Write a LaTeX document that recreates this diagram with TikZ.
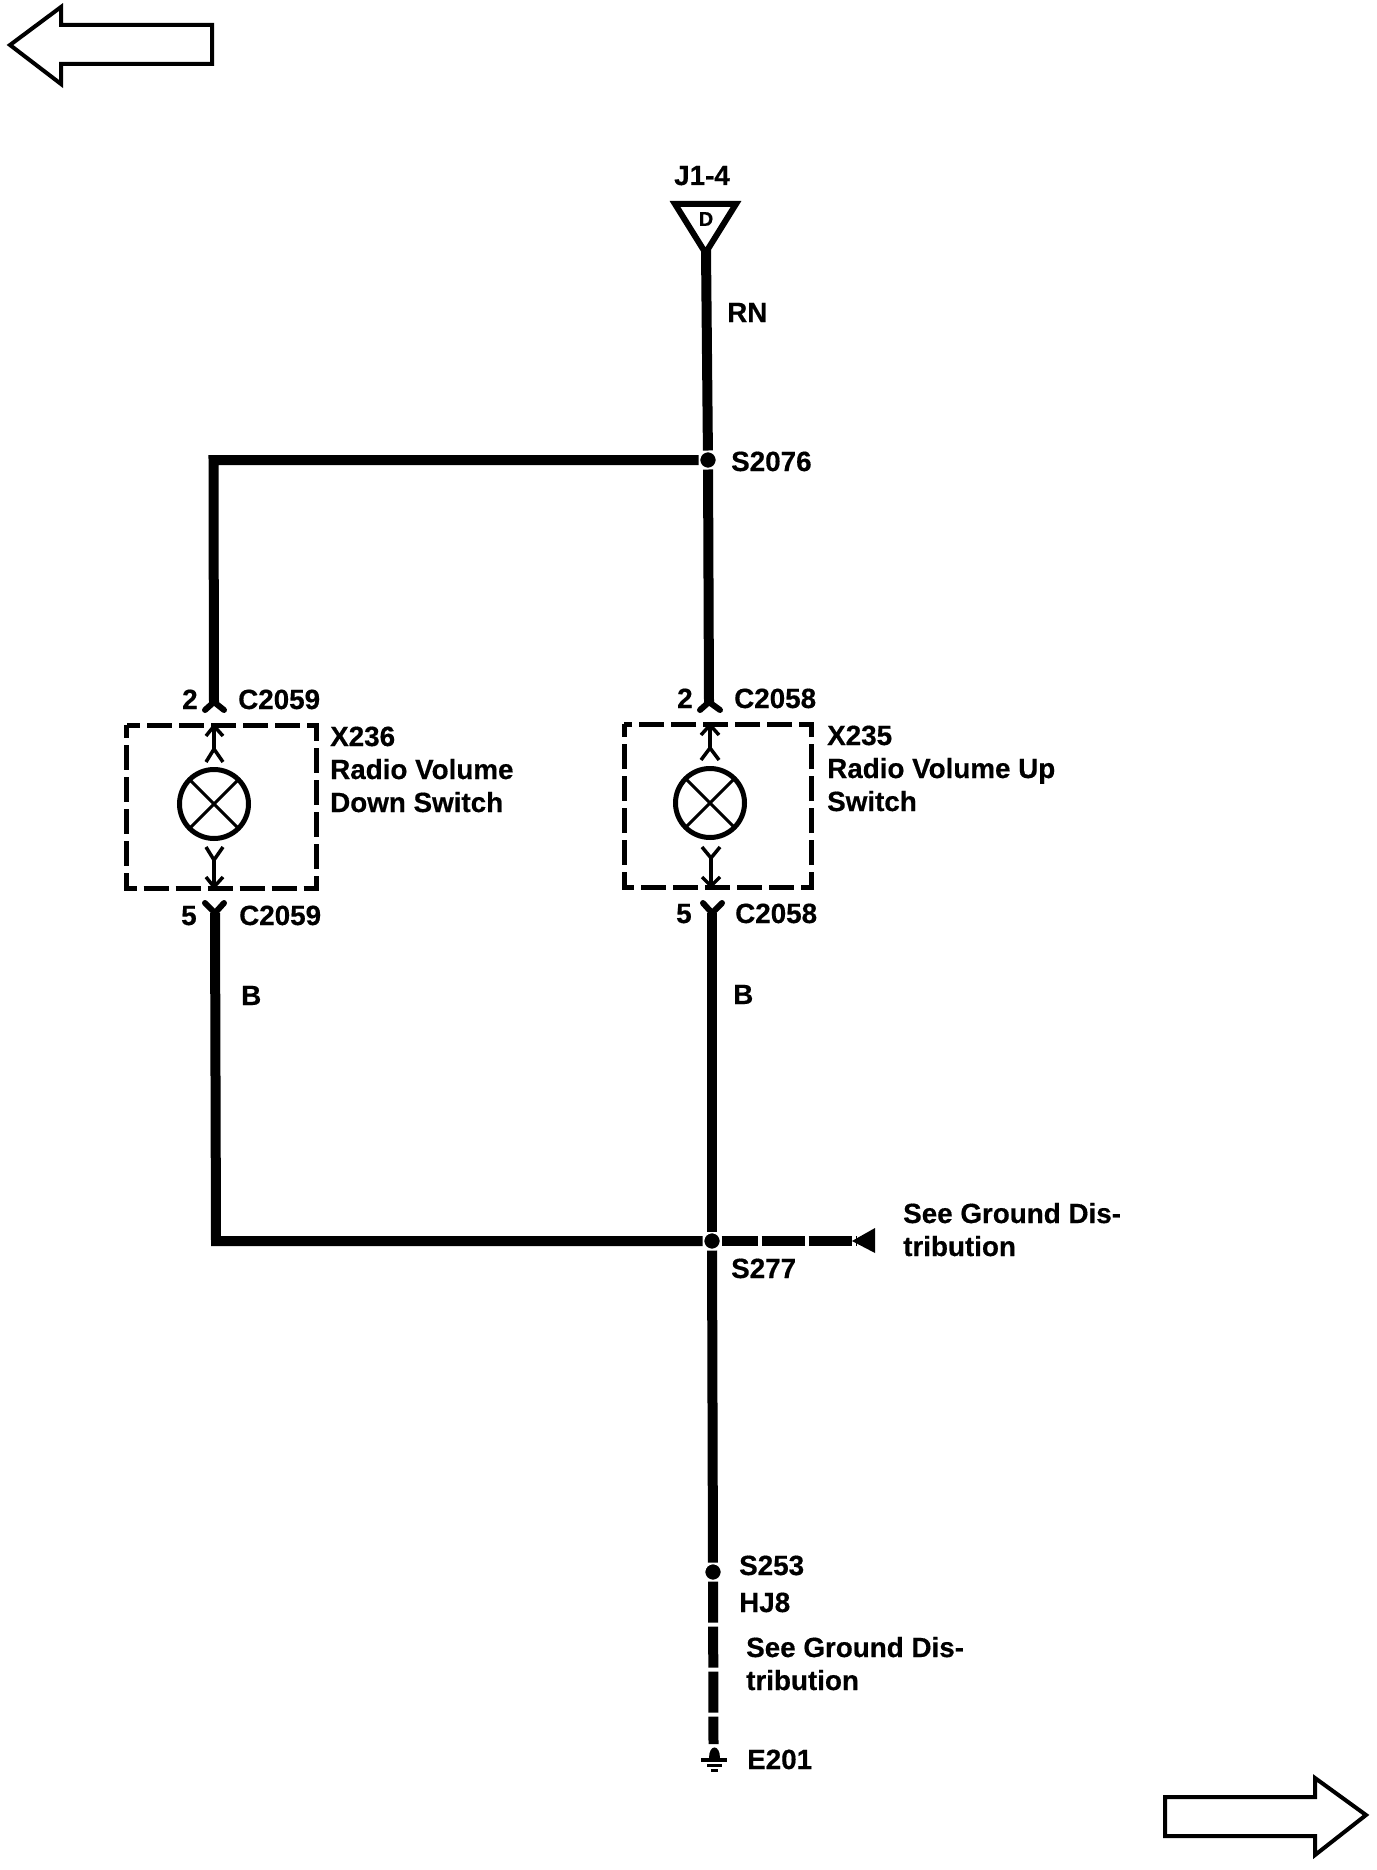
\documentclass[tikz,border=0pt]{standalone}
\usepackage{fontspec}
\setmainfont{Liberation Sans}[BoldFeatures={FakeBold=0.5}]
\tikzset{
	wire/.style={line width=10pt},
	dashWire/.style={line width=10pt, dash pattern=on 41pt off 4pt},
	fork/.style={line width=6pt, line cap=round, line join=round},
	stem/.style={line width=3.5pt, line join=round},
	switchBox/.style={line width=5pt, dash pattern=on 25pt off 7pt, dash phase=12pt, line join=miter},
	lamp/.style={circle, draw, line width=5pt, minimum size=69pt, inner sep=0pt, outer sep=0pt},
	splice/.style={circle, fill=black, draw=white, line width=3.5pt, minimum size=19pt, inner sep=0pt, outer sep=0pt},
	pageArrow/.style={line width=4pt, line join=miter},
	lab/.style={font=\bfseries\fontsize{27.8}{33}\selectfont, inner sep=0pt, anchor=base west, align=left}
}

\begin{document}
\begin{tikzpicture}[x=1pt, y=-1pt]

	\useasboundingbox (0,0) rectangle (1376,1870);

% Define coordinates.

	%top of feed
	\coordinate (feedTop) at (706, 250);

	%left branch
	\coordinate (cornerUp) at (213.5, 460);
	\coordinate (pinDownA) at (214, 702);
	\coordinate (pinDownB) at (215, 913);
	\coordinate (cornerLow) at (216, 1241);

	%right branch
	\coordinate (pinUpA) at (709, 702);
	\coordinate (pinUpB) at (712, 913);

	%ground leads
	\coordinate (groundTip) at (856, 1241);
	\coordinate (groundEnd) at (713.5, 1744);

% Splices and lamps.

	\node[splice] (S2076) at (708, 460) {};
	\node[splice] (S277) at (712, 1241) {};
	\node[splice] (S253) at (713, 1572) {};

	\node[lamp] (lampDown) at (214, 804) {};
	\node[lamp] (lampUp) at (710, 803) {};

% Draw wires.

	\draw[wire] (feedTop) -- (S2076);
	\draw[wire] (S2076) -- (pinUpA);
	\draw[wire, line join=miter] (S2076) -- (cornerUp) -- (pinDownA);
	\draw[wire, line join=miter] (pinDownB) -- (cornerLow) -- (S277);
	\draw[wire] (pinUpB) -- (S277);
	\draw[wire] (S277) -- (S253);
	\draw[wire, dash pattern=on 43pt off 4pt, dash phase=7pt] (S277) -- (groundTip);
	\draw[dashWire] (S253) -- (groundEnd);

% Draw connector pins.

	\draw[fork] (205, 710) -- (pinDownA) -- (224, 710);
	\draw[fork] (205, 903) -- (pinDownB) -- (224, 903);
	\draw[fork] (700, 710) -- (pinUpA) -- (720, 710);
	\draw[fork] (703, 903) -- (pinUpB) -- (722, 903);

% Draw switches.

	%radio volume down
	\draw[switchBox] (126.5, 725) rectangle (316, 888);
	\draw[stem] (214, 726) -- (214, 749);
	\draw[stem] (206, 736) -- (214, 726) -- (223, 736);
	\draw[stem] (206, 762) -- (214, 749) -- (223, 762);
	\draw[line width=3pt] (lampDown.45) -- (lampDown.225);
	\draw[line width=3pt] (lampDown.135) -- (lampDown.315);
	\draw[stem] (214, 860) -- (214, 887);
	\draw[stem] (206, 847) -- (214, 860) -- (223, 847);
	\draw[stem] (206, 877) -- (214, 887) -- (223, 877);

	%radio volume up
	\draw[switchBox] (624, 724) rectangle (811, 887);
	\draw[stem] (710, 725) -- (710, 748);
	\draw[stem] (701, 735) -- (710, 725) -- (719, 735);
	\draw[stem] (701, 760) -- (710, 748) -- (719, 760);
	\draw[line width=3pt] (lampUp.45) -- (lampUp.225);
	\draw[line width=3pt] (lampUp.135) -- (lampUp.315);
	\draw[stem] (711, 858) -- (711, 886);
	\draw[stem] (702, 847) -- (711, 858) -- (720, 847);
	\draw[stem] (702, 877) -- (711, 886) -- (720, 877);

% Draw terminal, ground and page arrows.

	\draw[line width=6pt, line join=miter] (675, 204) -- (736, 204) -- (705.5, 253) -- cycle;
	\node[font=\bfseries\fontsize{20}{20}\selectfont, inner sep=0pt] (termD) at (706, 219) {D};

	\fill[black] (875, 1228) -- (875, 1253) -- (852, 1241) -- cycle;

	\fill[black] (709, 1758) .. controls (709, 1744) and (720, 1744) .. (720, 1758) -- cycle;
	\fill[black] (701, 1758) rectangle (727, 1762);
	\fill[black] (707, 1764) rectangle (722, 1767);
	\fill[black] (711, 1769) rectangle (718, 1772);

	\draw[pageArrow] (10, 45) -- (61, 7) -- (61, 25) -- (212, 25) -- (212, 64) -- (61, 64) -- (61, 84) -- cycle;
	\draw[pageArrow] (1366, 1815) -- (1315, 1778) -- (1315, 1797) -- (1165, 1797) -- (1165, 1836) -- (1315, 1836) -- (1315, 1855) -- cycle;

% Draw labels.

	\node[lab] (lJ) at (674, 185) {J1-4};
	\node[lab] (lRN) at (727, 322) {RN};
	\node[lab] (lS2076) at (731, 471) {S2076};

	\node[lab] (lTwoA) at (182, 709) {2};
	\node[lab] (lConA) at (238, 709) {C2059};
	\node[lab] (lFiveA) at (181, 925) {5};
	\node[lab] (lConB) at (239, 925) {C2059};
	\node[lab] (lDown) at (330, 812) {X236\\Radio Volume\\Down Switch};

	\node[lab] (lTwoB) at (677, 708) {2};
	\node[lab] (lConC) at (734, 708) {C2058};
	\node[lab] (lFiveB) at (676, 923) {5};
	\node[lab] (lConD) at (735, 923) {C2058};
	\node[lab] (lUp) at (827, 811) {X235\\Radio Volume Up\\Switch};

	\node[lab] (lBlackA) at (241, 1005) {B};
	\node[lab] (lBlackB) at (733, 1004) {B};

	\node[lab] (lSeeA) at (903, 1256) {See Ground Dis-\\tribution};
	\node[lab] (lS277) at (731, 1278) {S277};
	\node[lab] (lS253) at (739, 1575) {S253};
	\node[lab] (lHJ) at (739, 1612) {HJ8};
	\node[lab] (lSeeB) at (746, 1690) {See Ground Dis-\\tribution};
	\node[lab] (lE) at (747, 1769) {E201};

\end{tikzpicture}
\end{document}
